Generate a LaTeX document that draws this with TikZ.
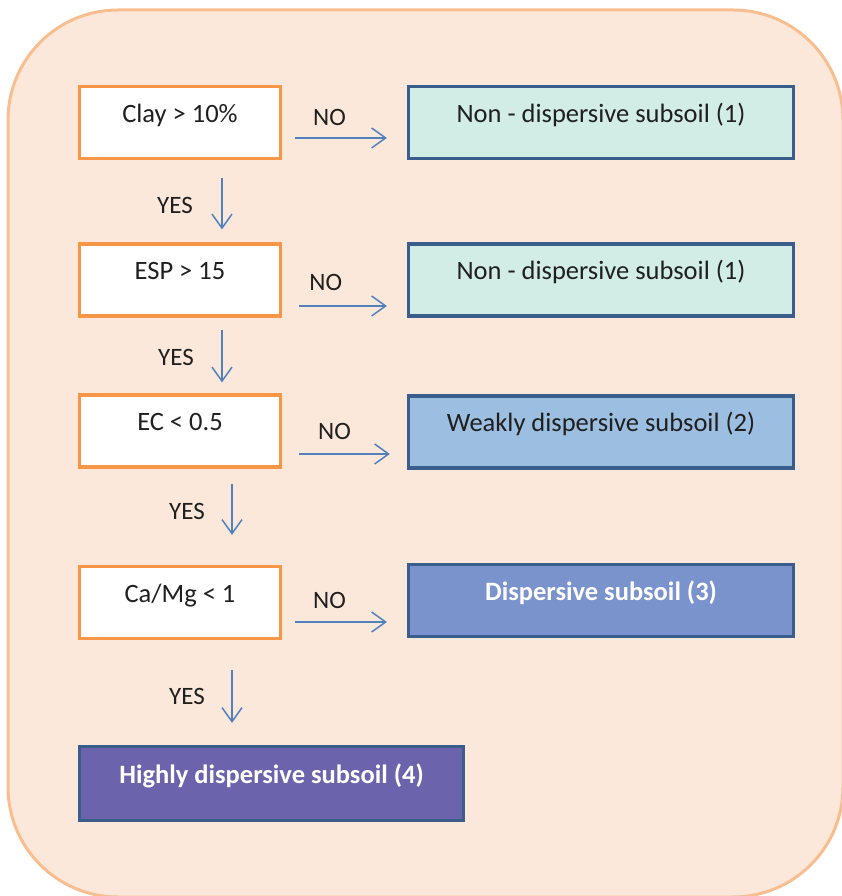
\documentclass[tikz,border=0pt]{standalone}
\usepackage{fontspec}
\setmainfont{Carlito}
\usetikzlibrary{arrows.meta}

\definecolor{bgfill}{HTML}{FCE8DA}
\definecolor{bgline}{HTML}{F9BE8F}
\definecolor{testline}{HTML}{F79646}
\definecolor{soilline}{HTML}{3A5E8C}
\definecolor{nonfill}{HTML}{D2ECE6}
\definecolor{weakfill}{HTML}{9CBFE1}
\definecolor{dispfill}{HTML}{7A93CD}
\definecolor{highfill}{HTML}{6B63AC}
\definecolor{arrline}{HTML}{4F81BD}

\tikzset{
  testbox/.style={draw=testline,fill=white,line width=3.2pt,minimum width=201pt,minimum height=72pt,
    text height=12pt,text depth=12pt,font=\fontsize{26.5}{31}\selectfont,text=black!88},
  soilbox/.style={draw=soilline,line width=3.2pt,minimum width=385pt,minimum height=72pt,
    text height=12pt,text depth=12pt,font=\fontsize{26.5}{31}\selectfont,text=black!88},
  arr/.style={draw=arrline,line width=1.5pt,-{Straight Barb[length=14pt,width=20pt]}},
  lbl/.style={font=\fontsize{25}{29}\selectfont,text=black!88,inner sep=0pt}
}

\begin{document}
\begin{tikzpicture}[x=10pt,y=10pt]
  \useasboundingbox (0,0) rectangle (84.1,89.6);
  \draw[fill=bgfill,draw=bgline,line width=3pt,rounded corners=110pt] (0.8,88.6) rectangle (84.3,-0.1);

  % tests
  \node[testbox] (clay) at (18.0,77.35) {Clay > 10\%};
  \node[testbox] (esp)  at (18.0,61.6)  {ESP > 15};
  \node[testbox] (ec)   at (18.0,46.5)  {EC < 0.5};
  \node[testbox] (camg) at (18.0,29.35) {Ca/Mg < 1};

  % classes
  \node[soilbox,fill=nonfill]  (non1) at (60.1,77.35) {Non - dispersive subsoil (1)};
  \node[soilbox,fill=nonfill]  (non2) at (60.1,61.6)  {Non - dispersive subsoil (1)};
  \node[soilbox,fill=weakfill] (weak) at (60.1,46.4)  {Weakly dispersive subsoil (2)};
  \node[soilbox,fill=dispfill,text=white,font=\fontsize{26.5}{31}\selectfont\bfseries] (disp) at (60.1,29.55) {Dispersive subsoil (3)};
  \node[soilbox,fill=highfill,text=white,font=\fontsize{26.5}{31}\selectfont\bfseries,minimum width=384pt,minimum height=74pt] (high) at (27.15,11.25) {Highly dispersive subsoil (4)};

  % NO
  \draw[arr,shorten <=13pt,shorten >=20pt] ([yshift=-15.5pt]clay.east) -- ([yshift=-15.5pt]non1.west)
    node[lbl,pos=0.38,yshift=21pt] {NO};
  \draw[arr,shorten <=17pt,shorten >=20pt] ([yshift=-26pt]esp.east) -- ([yshift=-26pt]non2.west)
    node[lbl,pos=0.35,yshift=24pt] {NO};
  \draw[arr,shorten <=17pt,shorten >=17pt] ([yshift=-23pt]ec.east) -- ([yshift=-23pt]ec.east -| weak.west)
    node[lbl,pos=0.42,yshift=23pt] {NO};
  \draw[arr,shorten <=13pt,shorten >=20pt] ([yshift=-19.5pt]camg.east) -- ([yshift=-19.5pt]camg.east -| disp.west)
    node[lbl,pos=0.38,yshift=22pt] {NO};

  % YES
  \draw[arr,shorten <=18pt,shorten >=13pt] ([xshift=42pt]clay.south) -- ([xshift=42pt]clay.south |- esp.north)
    node[lbl,midway,xshift=-47pt,yshift=-4pt] {YES};
  \draw[arr,shorten <=12pt,shorten >=11pt] ([xshift=42pt]esp.south) -- ([xshift=42pt]esp.south |- ec.north)
    node[lbl,midway,xshift=-46pt,yshift=-2pt] {YES};
  \draw[arr,shorten <=15pt,shorten >=30pt] ([xshift=52pt]ec.south) -- ([xshift=52pt]ec.south |- camg.north)
    node[lbl,pos=0.45,xshift=-45pt] {YES};
  \draw[arr,shorten <=30pt,shorten >=22pt] ([xshift=52pt]camg.south) -- ([xshift=52pt]camg.south |- high.north)
    node[lbl,pos=0.52,xshift=-45pt,yshift=-2pt] {YES};
\end{tikzpicture}
\end{document}
